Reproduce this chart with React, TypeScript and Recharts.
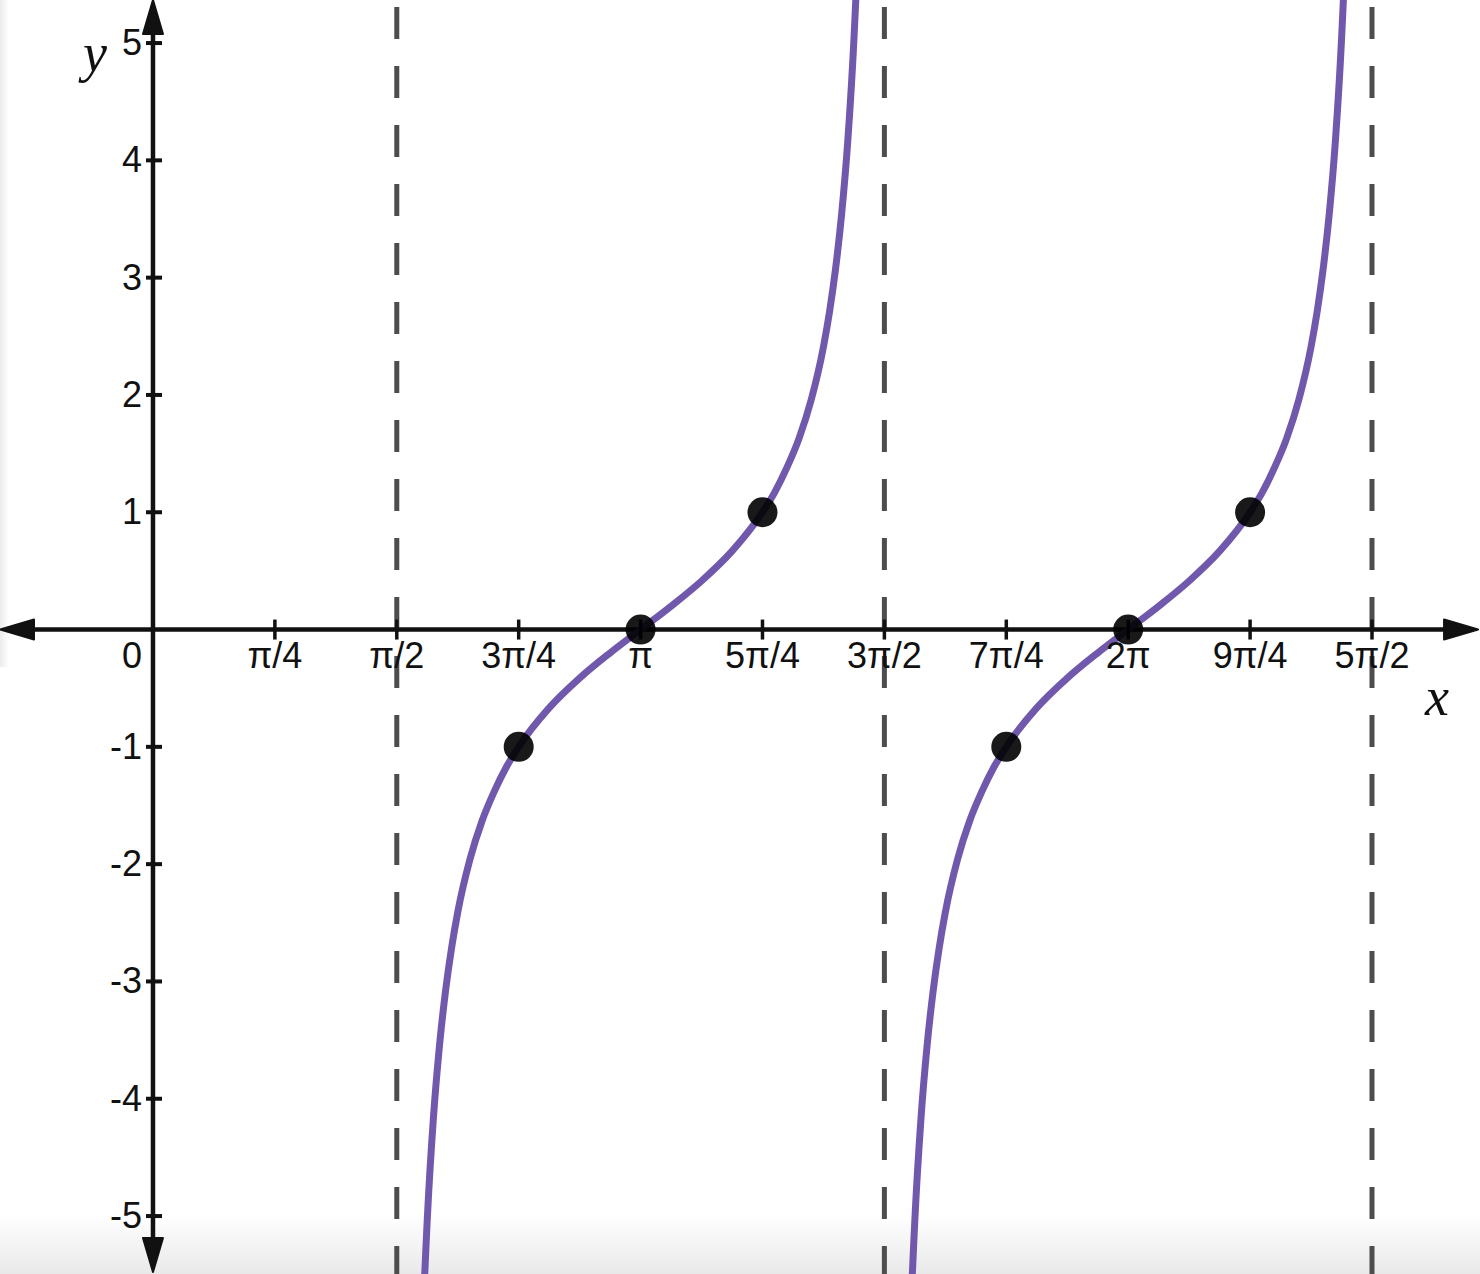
import { ComposedChart, Line, Scatter, XAxis, YAxis, ReferenceLine, ReferenceDot } from 'recharts';

// x values are in units of π/4 (1 = π/4, 4 = π, 8 = 2π)
const xTickValues = [1, 2, 3, 4, 5, 6, 7, 8, 9, 10];
const xTickLabels = ['π/4', 'π/2', '3π/4', 'π', '5π/4', '3π/2', '7π/4', '2π', '9π/4', '5π/2'];
const yTickValues = [-5, -4, -3, -2, -1, 1, 2, 3, 4, 5];
const asymptotes = [2, 6, 10];

// curve, one branch per period
const leftBranchX = [2.15, 2.2, 2.25, 2.3, 2.35, 2.4, 2.45, 2.5, 2.6, 2.7, 2.8, 2.9, 3, 3.25, 3.5, 3.75, 4, 4.25, 4.5, 4.75, 5, 5.1, 5.2, 5.3, 5.4, 5.5, 5.55, 5.6, 5.65, 5.7, 5.75, 5.8, 5.85];
const rightBranchX = [6.15, 6.2, 6.25, 6.3, 6.35, 6.4, 6.45, 6.5, 6.6, 6.7, 6.8, 6.9, 7, 7.25, 7.5, 7.75, 8, 8.25, 8.5, 8.75, 9, 9.1, 9.2, 9.3, 9.4, 9.5, 9.55, 9.6, 9.65, 9.7, 9.75, 9.8, 9.85];
const branchY = [-8.45, -6.31, -5.03, -4.17, -3.55, -3.08, -2.71, -2.41, -1.96, -1.63, -1.38, -1.17, -1, -0.668, -0.414, -0.199, 0, 0.199, 0.414, 0.668, 1, 1.17, 1.38, 1.63, 1.96, 2.41, 2.71, 3.08, 3.55, 4.17, 5.03, 6.31, 8.45];

const markedX = [3, 4, 5, 7, 8, 9];
const markedY = [-1, 0, 1, -1, 0, 1];

const X_MIN = -1.255;
const X_MAX = 10.886;
const Y_MIN = -5.494;
const Y_MAX = 5.367;

const curveData = [
  ...leftBranchX.map((q, i) => ({ q, y: branchY[i] })),
  { q: 6, y: null },
  ...rightBranchX.map((q, i) => ({ q, y: branchY[i] })),
];
const markedData = markedX.map((q, i) => ({ q, y: markedY[i] }));

const INK = '#111';
const SANS = '"Liberation Sans", Arial, Helvetica, sans-serif';
const SERIF = '"Liberation Serif", "Times New Roman", serif';

const ArrowAxis = (props: any) => {
  const { x1, y1, x2, y2 } = props;
  const dx = x2 - x1;
  const dy = y2 - y1;
  const len = Math.hypot(dx, dy) || 1;
  const ux = dx / len;
  const uy = dy / len;
  const head = 34;
  const half = 10;
  const tri = (tx: number, ty: number, ddx: number, ddy: number) => {
    const bx = tx - ddx * head;
    const by = ty - ddy * head;
    return `${tx},${ty} ${bx - ddy * half},${by + ddx * half} ${bx + ddy * half},${by - ddx * half}`;
  };
  return (
    <g>
      <line x1={x1 + ux * 20} y1={y1 + uy * 20} x2={x2 - ux * 20} y2={y2 - uy * 20} stroke={INK} strokeWidth={4.5} />
      <polygon points={tri(x2, y2, ux, uy)} fill={INK} stroke={INK} strokeWidth={2} strokeLinejoin="round" />
      <polygon points={tri(x1, y1, -ux, -uy)} fill={INK} stroke={INK} strokeWidth={2} strokeLinejoin="round" />
    </g>
  );
};

export default function App() {
  return (
    <div
      style={{
        position: 'absolute',
        left: 0,
        top: 0,
        width: 1480,
        height: 1274,
        backgroundColor: '#fff',
        backgroundImage:
          'linear-gradient(to right, #ececec, rgba(255,255,255,0) 9px), linear-gradient(to bottom, rgba(235,235,235,0) 1215px, #e9e9e9 1274px)',
        backgroundSize: '10px 667px, 100% 100%',
        backgroundRepeat: 'no-repeat',
      }}
    >
      <ComposedChart width={1480} height={1274} margin={{ top: 0, right: 0, bottom: 0, left: 0 }}>
        <XAxis type="number" dataKey="q" domain={[X_MIN, X_MAX]} allowDataOverflow hide />
        <YAxis type="number" domain={[Y_MIN, Y_MAX]} allowDataOverflow hide />

        {asymptotes.map((q) => (
          <ReferenceLine
            key={`asym-${q}`}
            segment={[{ x: q, y: Y_MAX }, { x: q, y: Y_MIN }]}
            ifOverflow="visible"
            stroke="#4d4d4d"
            strokeWidth={5}
            strokeDasharray="32 27"
            strokeDashoffset={52}
          />
        ))}

        <ReferenceLine segment={[{ x: X_MIN, y: 0 }, { x: 10.87, y: 0 }]} ifOverflow="visible" shape={ArrowAxis} />
        <ReferenceLine segment={[{ x: 0, y: Y_MAX }, { x: 0, y: -5.477 }]} ifOverflow="visible" shape={ArrowAxis} />

        {xTickValues.map((q, i) => (
          <ReferenceDot
            key={`xt-${q}`}
            x={q}
            y={0}
            r={0}
            ifOverflow="visible"
            shape={(p: any) => (
              <g>
                <line x1={p.cx} y1={p.cy - 10} x2={p.cx} y2={p.cy + 10} stroke={INK} strokeWidth={3.5} />
                <text x={p.cx} y={p.cy + 38} textAnchor="middle" fontFamily={SANS} fontSize={36} fill={INK}>
                  {xTickLabels[i]}
                </text>
              </g>
            )}
          />
        ))}

        {yTickValues.map((v) => (
          <ReferenceDot
            key={`yt-${v}`}
            x={0}
            y={v}
            r={0}
            ifOverflow="visible"
            shape={(p: any) => (
              <g>
                <line x1={p.cx - 7} y1={p.cy} x2={p.cx + 9} y2={p.cy} stroke={INK} strokeWidth={4} />
                <text x={p.cx - 11} y={p.cy + 12} textAnchor="end" fontFamily={SANS} fontSize={36} fill={INK}>
                  {v}
                </text>
              </g>
            )}
          />
        ))}

        <ReferenceDot
          x={0}
          y={0}
          r={0}
          ifOverflow="visible"
          shape={(p: any) => (
            <text x={p.cx - 11} y={p.cy + 38} textAnchor="end" fontFamily={SANS} fontSize={36} fill={INK}>
              0
            </text>
          )}
        />
        <ReferenceDot
          x={0}
          y={5}
          r={0}
          ifOverflow="visible"
          shape={(p: any) => (
            <text x={p.cx - 58} y={p.cy + 28} textAnchor="middle" fontFamily={SERIF} fontStyle="italic" fontSize={54} fill={INK}>
              y
            </text>
          )}
        />
        <ReferenceDot
          x={10}
          y={0}
          r={0}
          ifOverflow="visible"
          shape={(p: any) => (
            <text x={p.cx + 65} y={p.cy + 85} textAnchor="middle" fontFamily={SERIF} fontStyle="italic" fontSize={54} fill={INK}>
              x
            </text>
          )}
        />

        <Line
          data={curveData}
          dataKey="y"
          type="monotone"
          stroke="#7059ac"
          strokeWidth={7}
          dot={false}
          activeDot={false}
          connectNulls={false}
          isAnimationActive={false}
        />
        <Scatter
          data={markedData}
          dataKey="y"
          isAnimationActive={false}
          shape={(p: any) => <circle cx={p.cx} cy={p.cy} r={15} fill="#000" fillOpacity={0.9} />}
        />
      </ComposedChart>
    </div>
  );
}
